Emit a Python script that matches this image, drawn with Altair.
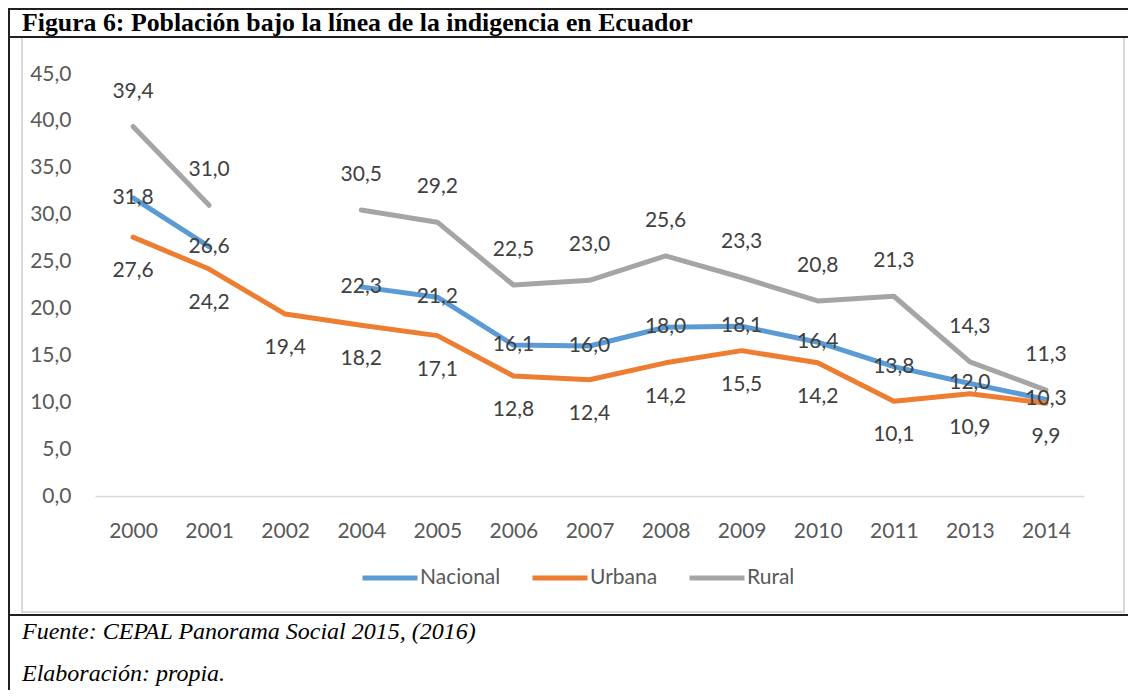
import altair as alt
import pandas as pd

# ---- data ----
years = ["2000", "2001", "2002", "2004", "2005", "2006", "2007",
         "2008", "2009", "2010", "2011", "2013", "2014"]
nacional = [31.8, 26.6, None, 22.3, 21.2, 16.1, 16.0, 18.0, 18.1, 16.4, 13.8, 12.0, 10.3]
urbana = [27.6, 24.2, 19.4, 18.2, 17.1, 12.8, 12.4, 14.2, 15.5, 14.2, 10.1, 10.9, 9.9]
rural = [39.4, 31.0, None, 30.5, 29.2, 22.5, 23.0, 25.6, 23.3, 20.8, 21.3, 14.3, 11.3]
series_names = ["Nacional", "Urbana", "Rural"]
series_colors = ["#5B9BD5", "#ED7D31", "#A5A5A5"]
y_ticks = [0, 5, 10, 15, 20, 25, 30, 35, 40, 45]

title_text = "Figura 6: Población bajo la línea de la indigencia en Ecuador"
source_text = "Fuente: CEPAL Panorama Social 2015, (2016)"
credit_text = "Elaboración: propia."

# ---- long table; a gap (None) starts a new line segment ----
rows = []
for name, vals in zip(series_names, [nacional, urbana, rural]):
    seg = 0
    for yr, v in zip(years, vals):
        if v is None:
            seg += 1
            continue
        rows.append({"anio": yr, "serie": name, "valor": v, "tramo": f"{name}-{seg}"})
df = pd.DataFrame(rows)
one = pd.DataFrame({"k": [0]})

FONT = "Lato"
W, H = 989, 422

x_enc = alt.X("anio:O", sort=years,
              scale=alt.Scale(domain=years, type="point", padding=0.5),
              axis=alt.Axis(labelAngle=0, ticks=False, labelPadding=24, title=None,
                            labelFont=FONT, labelFontSize=21, labelColor="#595959",
                            domainColor="#D9D9D9", domainWidth=1.5, grid=False))
y_enc = alt.Y("valor:Q",
              scale=alt.Scale(domain=[0, 45], nice=False, zero=True),
              axis=alt.Axis(values=y_ticks, title=None, ticks=False, domain=False, grid=False,
                            labelExpr="replace(format(datum.value, '.1f'), '.', ',')",
                            labelPadding=24, labelFont=FONT, labelFontSize=21,
                            labelColor="#595959"))

# ---- frame decorations (page furniture) ----
box = alt.Chart(one).mark_rect(fill="white", fillOpacity=0, stroke="#D9D9D9",
                               strokeWidth=2).encode(
    x=alt.value(-73), x2=alt.value(1029), y=alt.value(-37), y2=alt.value(538))


def hrule(y, x1, x2):
    return alt.Chart(one).mark_rule(color="#231F20", strokeWidth=2).encode(
        x=alt.value(x1), x2=alt.value(x2), y=alt.value(y))


def vrule(x, y1, y2):
    return alt.Chart(one).mark_rule(color="#231F20", strokeWidth=2).encode(
        x=alt.value(x), y=alt.value(y1), y2=alt.value(y2))


top_line = hrule(-65, -87, 1040)
title_line = hrule(-37, -87, 1040)
bottom_line = hrule(541, -87, 1040)
left_line = vrule(-86, -66, 620)

title = alt.Chart(one).mark_text(text=title_text, font="Liberation Serif", fontSize=25.8,
                                 fontWeight="bold", align="left", baseline="alphabetic",
                                 color="black").encode(x=alt.value(-73), y=alt.value(-43))
source = alt.Chart(one).mark_text(text=source_text, font="Liberation Serif", fontSize=24,
                                  fontStyle="italic", align="left", baseline="alphabetic",
                                  color="black").encode(x=alt.value(-73), y=alt.value(565))
credit = alt.Chart(one).mark_text(text=credit_text, font="Liberation Serif", fontSize=24,
                                  fontStyle="italic", align="left", baseline="alphabetic",
                                  color="black").encode(x=alt.value(-73), y=alt.value(607))

# ---- data layers ----
lines = alt.Chart(df).mark_line(strokeWidth=5, strokeCap="round", strokeJoin="round").encode(
    x=x_enc, y=y_enc,
    color=alt.Color("serie:N",
                    scale=alt.Scale(domain=series_names, range=series_colors),
                    legend=alt.Legend(orient="none", legendX=265, legendY=474,
                                      direction="horizontal", title=None,
                                      symbolType="stroke", symbolSize=3025,
                                      symbolStrokeWidth=5, labelFont=FONT,
                                      labelFontSize=21, labelColor="#595959",
                                      columnPadding=21, labelOffset=0)),
    detail="tramo:N")


def labels(name, dy):
    return alt.Chart(df).transform_filter(alt.datum.serie == name).transform_calculate(
        etiqueta="replace(format(datum.valor, '.1f'), '.', ',')"
    ).mark_text(font=FONT, fontSize=21, color="#404040", dy=dy, baseline="middle").encode(
        x=alt.X("anio:O", sort=years, scale=alt.Scale(domain=years, type="point", padding=0.5)),
        y=alt.Y("valor:Q", scale=alt.Scale(domain=[0, 45], nice=False)),
        text="etiqueta:N")


chart = alt.layer(
    box, lines, labels("Nacional", 0), labels("Urbana", 34), labels("Rural", -35),
    top_line, title_line, bottom_line, left_line, title, source, credit
).properties(
    width=W, height=H,
    autosize=alt.AutoSizeParams(type="none"),
    padding={"left": 87, "top": 66, "right": 44, "bottom": 194},
    background="white",
).configure_view(stroke=None)

chart.save("out.html", embed_options={"renderer": "svg", "actions": False})
